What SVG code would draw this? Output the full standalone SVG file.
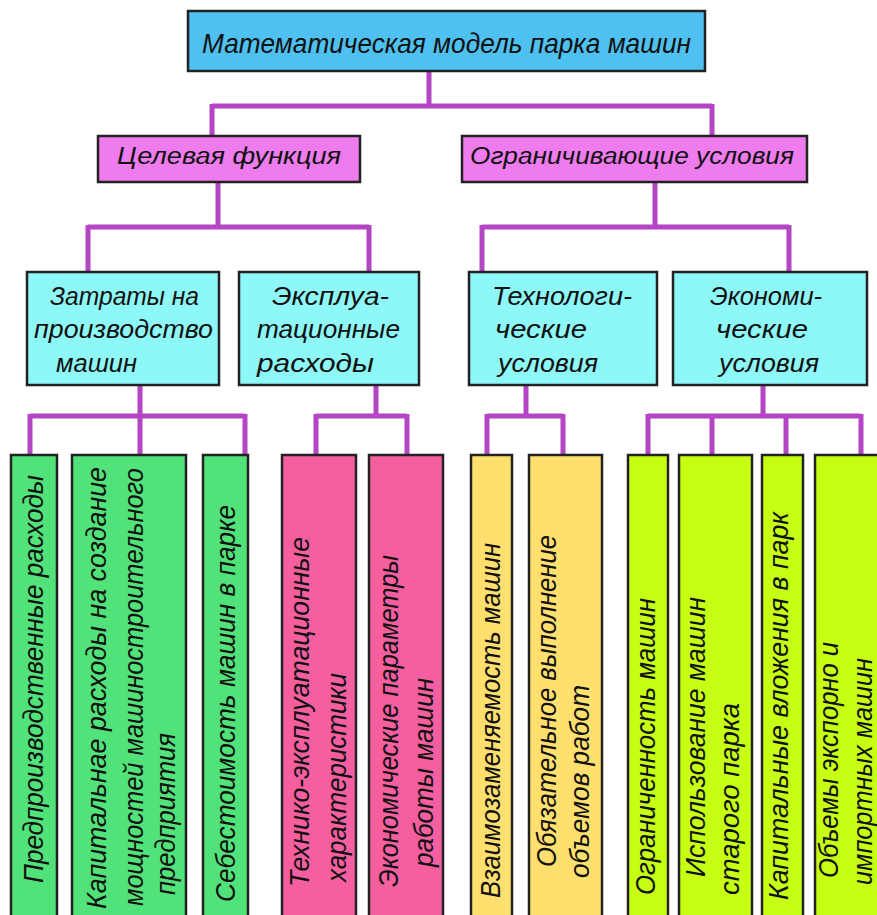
<svg xmlns="http://www.w3.org/2000/svg" width="877" height="915" viewBox="0 0 877 915">
<style>
.bx{stroke:#222;stroke-width:2.5}
.t{font-family:"Liberation Sans","DejaVu Sans",sans-serif;font-style:italic;fill:#111}
.t28{font-size:28px}
.t23{font-size:23px}
.t25{font-size:25px}
.tv{font-size:28px}
.blue{fill:#4FC1F1}
.mag{fill:#EE7CEE}
.cyan{fill:#8EF8F8}
.green{fill:#52E27A}
.pink{fill:#F55FA0}
.yellow{fill:#FFE06E}
.lime{fill:#C6FF14}
.con{fill:none;stroke:#B445C4;stroke-width:5;stroke-linejoin:miter;stroke-linecap:butt}
</style>
<rect width="877" height="915" fill="#ffffff"/>
<g id="connectors" class="con">
<path d="M429,71 V106 M212,106 H712 M212,104 V136 M712,104 V136"/>
<path d="M218,182 V227 M88,227 H369 M88,225 V272 M369,225 V272"/>
<path d="M655,182 V227 M482,227 H789 M482,225 V272 M789,225 V272"/>
<path d="M140,385 V416 M30,416 H245 M30,414 V455 M140,414 V455 M245,414 V455"/>
<path d="M376,385 V416 M316,416 H407 M316,414 V455 M407,414 V455"/>
<path d="M526,385 V416 M487,416 H563 M487,414 V455 M563,414 V455"/>
<path d="M763,385 V416 M648,416 H861 M648,414 V455 M712,414 V455 M786,414 V455 M861,414 V455"/>
</g>
<g id="root">
<rect class="bx blue" x="188" y="11" width="517" height="60"/>
<text class="t t28" x="202" y="53" textLength="489" lengthAdjust="spacingAndGlyphs">Математическая модель парка машин</text>
</g>
<g id="target">
<rect class="bx mag" x="98" y="136" width="262" height="46"/>
<text class="t t23" x="117" y="164" textLength="224" lengthAdjust="spacingAndGlyphs">Целевая функция</text>
</g>
<g id="constraints">
<rect class="bx mag" x="462" y="136" width="345" height="46"/>
<text class="t t23" x="470" y="164" textLength="324" lengthAdjust="spacingAndGlyphs">Ограничивающие условия</text>
</g>
<g id="costs">
<rect class="bx cyan" x="27" y="272" width="192" height="113"/>
<text class="t t25" x="50" y="305" textLength="149" lengthAdjust="spacingAndGlyphs">Затраты на</text>
<text class="t t25" x="34" y="338" textLength="179" lengthAdjust="spacingAndGlyphs">производство</text>
<text class="t t25" x="56" y="372" textLength="81" lengthAdjust="spacingAndGlyphs">машин</text>
</g>
<g id="operating">
<rect class="bx cyan" x="239" y="272" width="180" height="113"/>
<text class="t t25" x="272" y="305" textLength="117" lengthAdjust="spacingAndGlyphs">Эксплуа-</text>
<text class="t t25" x="257" y="338" textLength="143" lengthAdjust="spacingAndGlyphs">тационные</text>
<text class="t t25" x="257" y="372" textLength="117" lengthAdjust="spacingAndGlyphs">расходы</text>
</g>
<g id="tech">
<rect class="bx cyan" x="469" y="272" width="188" height="113"/>
<text class="t t25" x="492" y="305" textLength="140" lengthAdjust="spacingAndGlyphs">Технологи-</text>
<text class="t t25" x="495" y="338" textLength="92" lengthAdjust="spacingAndGlyphs">ческие</text>
<text class="t t25" x="498" y="372" textLength="100" lengthAdjust="spacingAndGlyphs">условия</text>
</g>
<g id="econ">
<rect class="bx cyan" x="673" y="272" width="194" height="113"/>
<text class="t t25" x="710" y="305" textLength="112" lengthAdjust="spacingAndGlyphs">Экономи-</text>
<text class="t t25" x="716" y="338" textLength="92" lengthAdjust="spacingAndGlyphs">ческие</text>
<text class="t t25" x="719" y="372" textLength="100" lengthAdjust="spacingAndGlyphs">условия</text>
</g>
<g id="leafA">
<rect class="bx green" x="11" y="455" width="46" height="475"/>
<text class="t tv" transform="translate(43,883) rotate(-90)" textLength="408" lengthAdjust="spacingAndGlyphs">Предпроизводственные расходы</text>
</g>
<g id="leafB">
<rect class="bx green" x="72" y="455" width="114" height="475"/>
<text class="t tv" transform="translate(106,909) rotate(-90)" textLength="442" lengthAdjust="spacingAndGlyphs">Капитальнае расходы на создание</text>
<text class="t tv" transform="translate(143,906) rotate(-90)" textLength="438" lengthAdjust="spacingAndGlyphs">мощностей машиностроительного</text>
<text class="t tv" transform="translate(175,895) rotate(-90)" textLength="162" lengthAdjust="spacingAndGlyphs">предприятия</text>
</g>
<g id="leafC">
<rect class="bx green" x="203" y="455" width="45" height="475"/>
<text class="t tv" transform="translate(235,902) rotate(-90)" textLength="397" lengthAdjust="spacingAndGlyphs">Себестоимость машин в парке</text>
</g>
<g id="leafD">
<rect class="bx pink" x="282" y="455" width="74" height="475"/>
<text class="t tv" transform="translate(309,887) rotate(-90)" textLength="350" lengthAdjust="spacingAndGlyphs">Технико-эксплуатационные</text>
<text class="t tv" transform="translate(346,882) rotate(-90)" textLength="209" lengthAdjust="spacingAndGlyphs">характеристики</text>
</g>
<g id="leafE">
<rect class="bx pink" x="369" y="455" width="74" height="475"/>
<text class="t tv" transform="translate(398,887) rotate(-90)" textLength="332" lengthAdjust="spacingAndGlyphs">Экономические параметры</text>
<text class="t tv" transform="translate(433,867) rotate(-90)" textLength="189" lengthAdjust="spacingAndGlyphs">работы машин</text>
</g>
<g id="leafF">
<rect class="bx yellow" x="471" y="455" width="41" height="475"/>
<text class="t tv" transform="translate(500,898) rotate(-90)" textLength="355" lengthAdjust="spacingAndGlyphs">Взаимозаменяемость машин</text>
</g>
<g id="leafG">
<rect class="bx yellow" x="529" y="455" width="73" height="475"/>
<text class="t tv" transform="translate(556,867) rotate(-90)" textLength="332" lengthAdjust="spacingAndGlyphs">Обязательное выполнение</text>
<text class="t tv" transform="translate(589,878) rotate(-90)" textLength="193" lengthAdjust="spacingAndGlyphs">объемов работ</text>
</g>
<g id="leafH">
<rect class="bx lime" x="628" y="455" width="40" height="475"/>
<text class="t tv" transform="translate(655,895) rotate(-90)" textLength="297" lengthAdjust="spacingAndGlyphs">Ограниченность машин</text>
</g>
<g id="leafI">
<rect class="bx lime" x="679" y="455" width="73" height="475"/>
<text class="t tv" transform="translate(705,877) rotate(-90)" textLength="280" lengthAdjust="spacingAndGlyphs">Использование машин</text>
<text class="t tv" transform="translate(739,895) rotate(-90)" textLength="192" lengthAdjust="spacingAndGlyphs">старого парка</text>
</g>
<g id="leafJ">
<rect class="bx lime" x="762" y="455" width="41" height="475"/>
<text class="t tv" transform="translate(788,900) rotate(-90)" textLength="388" lengthAdjust="spacingAndGlyphs">Капитальные вложения в парк</text>
</g>
<g id="leafK">
<rect class="bx lime" x="815" y="455" width="75" height="475"/>
<text class="t tv" transform="translate(838,878) rotate(-90)" textLength="236" lengthAdjust="spacingAndGlyphs">Объемы экспорно и</text>
<text class="t tv" transform="translate(872,885) rotate(-90)" textLength="227" lengthAdjust="spacingAndGlyphs">импортных машин</text>
</g>
</svg>
